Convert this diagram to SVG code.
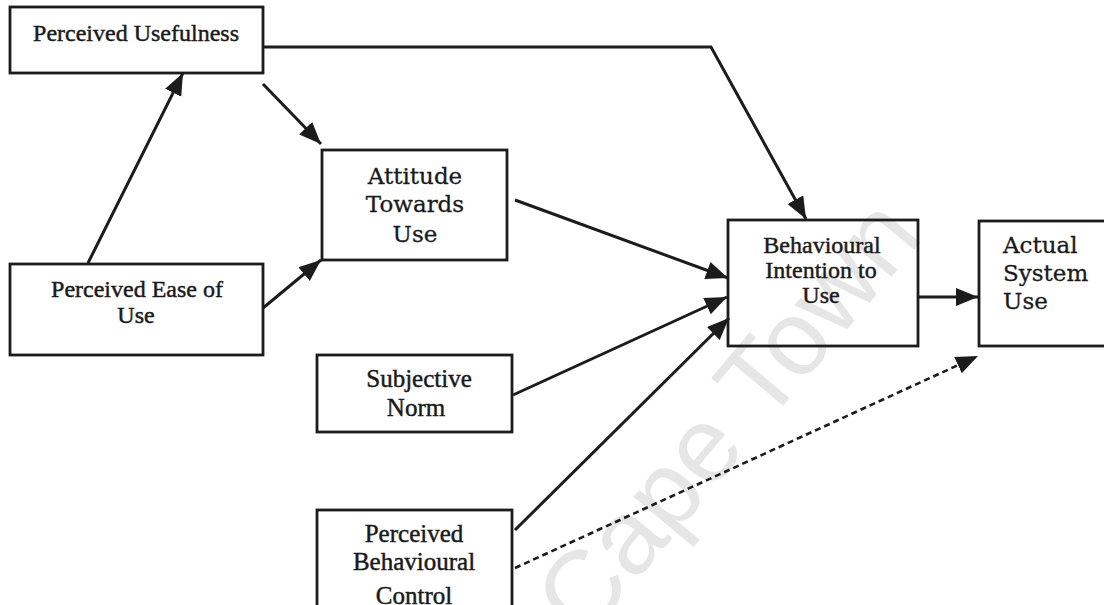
<svg xmlns="http://www.w3.org/2000/svg" width="1104" height="605" viewBox="0 0 1104 605">
  <defs>
    <style>
      .box { fill: none; stroke: #1c1c1c; stroke-width: 2.8; }
      .edge { fill: none; stroke: #1c1c1c; stroke-width: 3; }
      .dash { stroke-width: 2.6; stroke-dasharray: 6 4; }
      .tm { font-family: "Liberation Serif", "Times New Roman", serif; font-size: 24px; fill: #1a1a1a; stroke: #1a1a1a; stroke-width: 0.45; text-anchor: middle; }
      .lg { font-size: 25px; }
      .bk { font-family: "DejaVu Serif", "Liberation Serif", serif; font-size: 23px; fill: #1a1a1a; stroke: #1a1a1a; stroke-width: 0.3; }
      .mid { text-anchor: middle; }
      .wm { font-family: "Liberation Sans", Arial, sans-serif; font-size: 106px; fill: #e6e6e6; }
    </style>
    <marker id="arrow" markerUnits="userSpaceOnUse" markerWidth="24" markerHeight="20" refX="22" refY="9" orient="auto">
      <path d="M0,0 L22,9 L0,18 z" fill="#1c1c1c"/>
    </marker>
  </defs>

  <rect width="1104" height="605" fill="#ffffff"/>

  <!-- faint watermark behind the model -->
  <text class="wm" transform="translate(585,642) rotate(-50)">Cape Town</text>

  <!-- connectors -->
  <g id="connectors">
    <line class="edge" x1="88" y1="263" x2="183" y2="73" marker-end="url(#arrow)"/>
    <line class="edge" x1="263" y1="84" x2="321" y2="144" marker-end="url(#arrow)"/>
    <line class="edge" x1="263" y1="308" x2="321" y2="260" marker-end="url(#arrow)"/>
    <polyline class="edge" points="263,47 711,47 806,219" marker-end="url(#arrow)"/>
    <line class="edge" x1="515" y1="200" x2="728" y2="278" marker-end="url(#arrow)"/>
    <line class="edge" x1="513" y1="395" x2="727" y2="297" marker-end="url(#arrow)"/>
    <line class="edge" x1="515" y1="530" x2="729" y2="318" marker-end="url(#arrow)"/>
    <line class="edge" x1="918" y1="297" x2="978" y2="297" marker-end="url(#arrow)"/>
    <line class="edge dash" x1="515" y1="568" x2="978" y2="356" marker-end="url(#arrow)"/>
  </g>

  <!-- Perceived Usefulness -->
  <g id="perceived-usefulness">
    <rect class="box" x="10" y="7" width="253" height="66"/>
    <text class="tm" x="136" y="41">Perceived Usefulness</text>
  </g>

  <!-- Perceived Ease of Use -->
  <g id="perceived-ease-of-use">
    <rect class="box" x="10" y="264" width="253" height="91"/>
    <text class="tm" x="137" y="297">Perceived Ease of</text>
    <text class="tm" x="136" y="323">Use</text>
  </g>

  <!-- Attitude Towards Use -->
  <g id="attitude-towards-use">
    <rect class="box" x="322" y="150" width="185" height="110"/>
    <text class="bk mid" x="415" y="184">Attitude</text>
    <text class="bk mid" x="415" y="212">Towards</text>
    <text class="bk mid" x="415" y="242">Use</text>
  </g>

  <!-- Behavioural Intention to Use -->
  <g id="behavioural-intention">
    <rect class="box" x="728" y="220" width="190" height="126"/>
    <text class="tm" x="822" y="253">Behavioural</text>
    <text class="tm" x="821" y="278">Intention to</text>
    <text class="tm" x="821" y="303">Use</text>
  </g>

  <!-- Actual System Use -->
  <g id="actual-system-use">
    <rect class="box" x="979" y="221" width="140" height="125"/>
    <text class="bk" x="1003" y="253" font-size="24">Actual</text>
    <text class="bk" x="1003" y="281" font-size="24">System</text>
    <text class="bk" x="1003" y="309" font-size="24">Use</text>
  </g>

  <!-- Subjective Norm -->
  <g id="subjective-norm">
    <rect class="box" x="317" y="355" width="195" height="77"/>
    <text class="tm lg" x="419" y="387">Subjective</text>
    <text class="tm lg" x="416" y="416">Norm</text>
  </g>

  <!-- Perceived Behavioural Control -->
  <g id="perceived-behavioural-control">
    <rect class="box" x="317" y="510" width="195" height="120"/>
    <text class="tm lg" x="414" y="542">Perceived</text>
    <text class="tm lg" x="414" y="570">Behavioural</text>
    <text class="tm lg" x="414" y="604">Control</text>
  </g>
</svg>
